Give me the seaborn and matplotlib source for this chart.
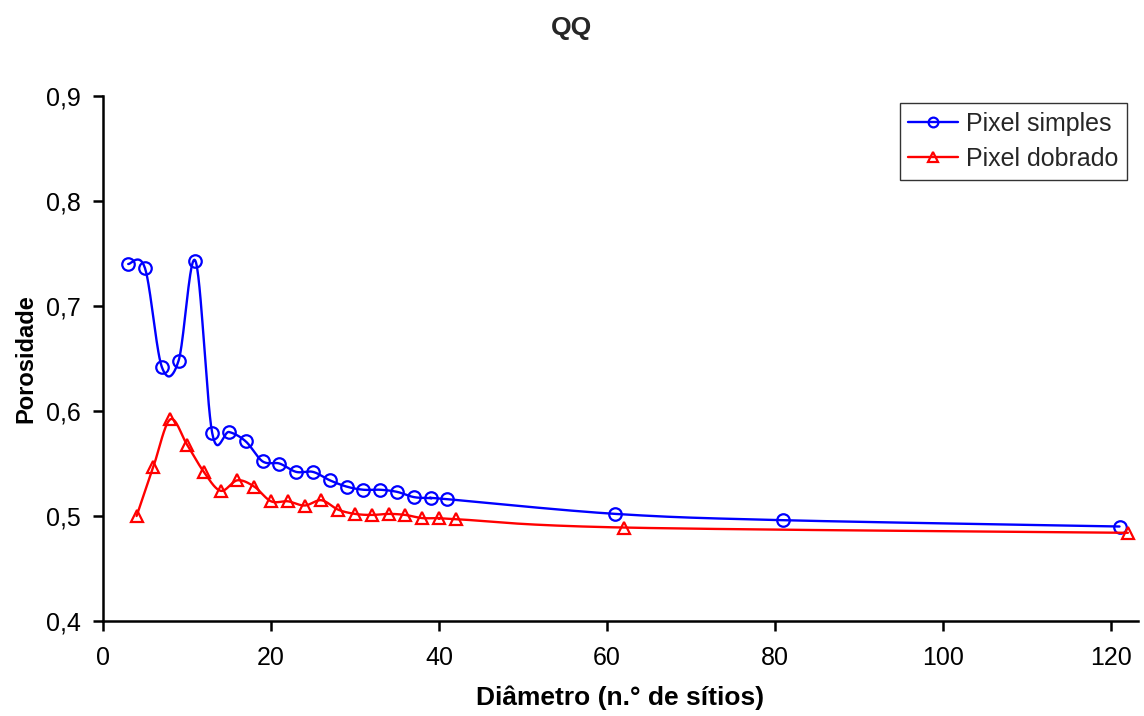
import numpy as np
import pandas as pd
import matplotlib
matplotlib.use("Agg")
import matplotlib.pyplot as plt
import seaborn as sns
from matplotlib.ticker import FuncFormatter

sns.set_theme(style="white")
plt.rcParams['font.family'] = ['Liberation Sans', 'DejaVu Sans']

x_simples = [3, 5, 7, 9, 11, 13, 15, 17, 19, 21, 23, 25, 27, 29, 31, 33, 35, 37, 39, 41, 61, 81, 121]
y_simples = [0.740, 0.736, 0.642, 0.648, 0.743, 0.579, 0.580, 0.571, 0.552, 0.550, 0.542, 0.542,
             0.534, 0.528, 0.525, 0.525, 0.523, 0.518, 0.517, 0.516, 0.502, 0.496, 0.490]
x_dobrado = [4, 6, 8, 10, 12, 14, 16, 18, 20, 22, 24, 26, 28, 30, 32, 34, 36, 38, 40, 42, 62, 122]
y_dobrado = [0.500, 0.547, 0.592, 0.568, 0.542, 0.524, 0.534, 0.528, 0.514, 0.514, 0.510, 0.515,
             0.506, 0.502, 0.501, 0.502, 0.501, 0.498, 0.498, 0.497, 0.489, 0.484]
series_names = ["Pixel simples", "Pixel dobrado"]
x_ticks = [0, 20, 40, 60, 80, 100, 120]
y_ticks = [0.4, 0.5, 0.6, 0.7, 0.8, 0.9]


def smooth(xs, ys, n=30):
    # Excel-style smoothed line (Catmull-Rom Bezier) drawn through the data points
    P = np.column_stack([xs, ys]).astype(float)
    P = np.vstack([P[0], P, P[-1]])
    out = []
    for i in range(1, len(P) - 2):
        p0, p1, p2, p3 = P[i - 1], P[i], P[i + 1], P[i + 2]
        c1 = p1 + (p2 - p0) / 6.0
        c2 = p2 - (p3 - p1) / 6.0
        t = np.linspace(0, 1, n)[:, None]
        seg = ((1 - t) ** 3) * p1 + 3 * ((1 - t) ** 2) * t * c1 + 3 * (1 - t) * t ** 2 * c2 + t ** 3 * p2
        out.append(seg if i == 1 else seg[1:])
    return np.vstack(out)


fig = plt.figure(figsize=(11.44, 7.16), dpi=100)
ax = fig.add_axes([103 / 1144, 1 - 621 / 716, (1138 - 103) / 1144, (621 - 96) / 716])

specs = [(x_simples, y_simples, "#0000FF", "o", 9), (x_dobrado, y_dobrado, "#FF0000", "^", 9)]
for (xs, ys, col, mk, ms), name in zip(specs, series_names):
    curve = smooth(xs, ys)
    cdf = pd.DataFrame({"x": curve[:, 0], "y": curve[:, 1]})
    sns.lineplot(data=cdf, x="x", y="y", sort=False, estimator=None, color=col, lw=1.7, ax=ax)
    ax.plot(xs, ys, linestyle="none", marker=mk, markersize=ms, markerfacecolor="none",
            markeredgecolor=col, markeredgewidth=1.6, clip_on=False)
    ax.plot([], [], color=col, lw=1.7, marker=mk, markersize=7, markerfacecolor="none",
            markeredgecolor=col, markeredgewidth=1.6, label=name)

ax.set_xlim(0, 123.2)
ax.set_ylim(0.4, 0.9)
ax.set_xticks(x_ticks)
ax.set_yticks(y_ticks)
ax.yaxis.set_major_formatter(FuncFormatter(lambda v, p: f"{v:.1f}".replace(".", ",")))
for s in ["top", "right"]:
    ax.spines[s].set_visible(False)
for s in ["left", "bottom"]:
    ax.spines[s].set_color("black")
    ax.spines[s].set_linewidth(1.8)
ax.tick_params(axis="both", direction="out", length=7, width=1.8, color="black",
               labelsize=18, labelcolor="black", left=True, bottom=True)
ax.tick_params(axis="x", pad=11)
ax.tick_params(axis="y", pad=9)
ax.set_xlabel("Diâmetro (n.° de sítios)", fontsize=19, fontweight="bold", color="black", labelpad=11)
ax.set_ylabel("Porosidade", fontsize=17, fontweight="bold", color="black", labelpad=6)
fig.text(0.5, 1 - 28 / 716, "QQ", ha="center", va="center", fontsize=19, fontweight="bold")

leg = ax.legend(loc="upper right", bbox_to_anchor=(1127 / 1144, 1 - 103 / 716), bbox_transform=fig.transFigure,
                fontsize=18, frameon=True, fancybox=False, handlelength=2.0, handletextpad=0.3,
                borderpad=0.35, labelspacing=0.45, borderaxespad=0)
leg.get_frame().set_edgecolor("black")
leg.get_frame().set_linewidth(1.0)

fig.savefig("out.png", dpi=100, facecolor="white")
